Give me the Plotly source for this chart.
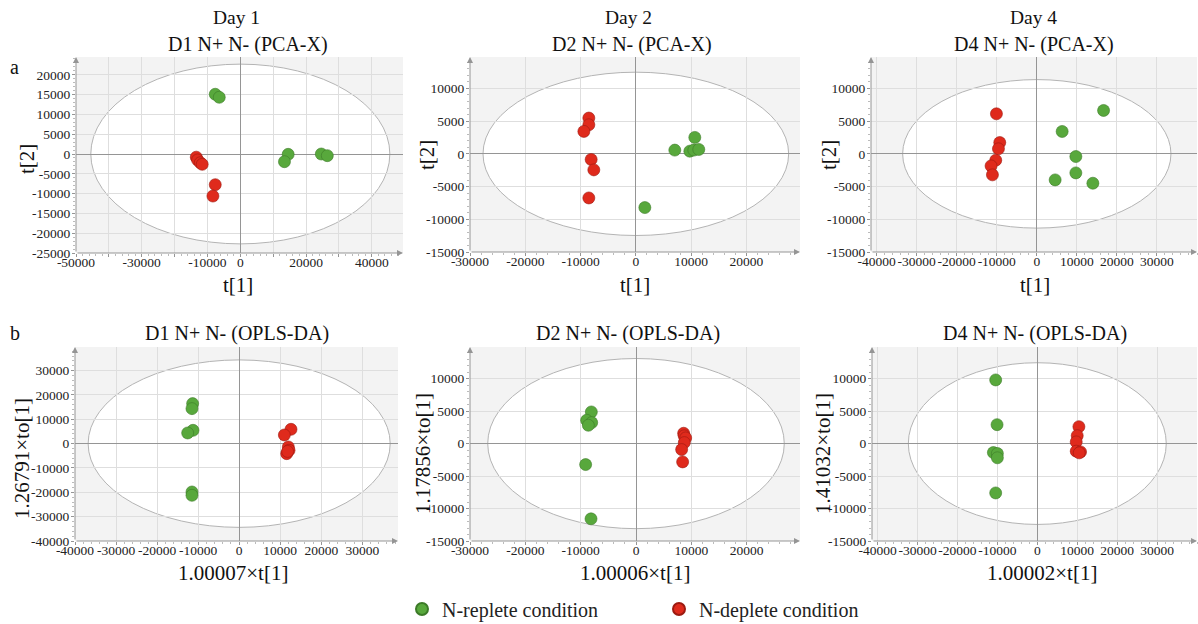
import plotly.graph_objects as go

# ---------------- data ----------------
panel_titles = ["D1 N+ N- (PCA-X)", "D2 N+ N- (PCA-X)", "D4 N+ N- (PCA-X)",
                "D1 N+ N- (OPLS-DA)", "D2 N+ N- (OPLS-DA)", "D4 N+ N- (OPLS-DA)"]
day_labels = ["Day 1", "Day 2", "Day 4"]
x_titles = ["t[1]", "t[1]", "t[1]", "1.00007×t[1]", "1.00006×t[1]", "1.00002×t[1]"]
y_titles = ["t[2]", "t[2]", "t[2]", "1.26791×to[1]", "1.17856×to[1]", "1.41032×to[1]"]
series_names = ["N-replete condition", "N-deplete condition"]

# N-replete (green)
rep_x = [
    [-7630, -6410, 14560, 13430, 24640, 26470],
    [7050, 10670, 9770, 10490, 11390, 1630],
    [16670, 6330, 9750, 9750, 4580, 14000],
    [-11340, -11500, -11250, -12550, -11500, -11500],
    [-8070, -8920, -8010, -8610, -9100, -8130],
    [-10420, -10080, -11000, -10000, -10000, -10420],
]
rep_y = [
    [15090, 14330, -80, -1940, 0, -420],
    [570, 2510, 410, 570, 670, -8210],
    [6630, 3420, -410, -2910, -3980, -4490],
    [16440, 14380, 5480, 4380, -19860, -21230],
    [4870, 3590, 3230, 2820, -3230, -11590],
    [9800, 2910, -1380, -1530, -2190, -7600],
]
# N-deplete (red)
dep_x = [
    [-13400, -13000, -12200, -11600, -7630, -8340],
    [-8500, -8500, -9400, -8080, -7600, -8500],
    [-10080, -9250, -9580, -10250, -11420, -11080],
    [12630, 11010, 11980, 12150, 11580, 11800],
    [8610, 8700, 8980, 8730, 8250, 8430],
    [10420, 10000, 9750, 9750, 10830, 10500],
]
dep_y = [
    [-800, -1500, -2200, -2600, -7750, -10620],
    [5470, 4440, 3430, -860, -2450, -6740],
    [6120, 1730, 770, -970, -1840, -3210],
    [5890, 3560, -1370, -2740, -4110, -3200],
    [1590, 1200, 870, 150, -920, -2820],
    [2600, 1220, 260, -1170, -1280, -1430],
]
# Hotelling T2 ellipse semi-axes
ellipse_a = [45500, 27650, 33500, 36800, 26800, 32300]
ellipse_b = [22700, 12480, 11350, 34400, 13100, 12450]

# axis ticks
x_tickvals = [
    list(range(-50000, 40001, 10000)),
    list(range(-30000, 20001, 10000)),
    list(range(-40000, 30001, 10000)),
    list(range(-40000, 30001, 10000)),
    list(range(-30000, 20001, 10000)),
    list(range(-40000, 30001, 10000)),
]
x_labeled = [
    [-50000, -30000, -10000, 0, 20000, 40000],
    None, None, None, None, None,
]
y_tickvals = [
    list(range(-25000, 20001, 5000)),
    list(range(-15000, 10001, 5000)),
    list(range(-15000, 10001, 5000)),
    list(range(-40000, 30001, 10000)),
    list(range(-15000, 10001, 5000)),
    list(range(-15000, 10001, 5000)),
]

# ---------------- layout geometry (px) ----------------
W, H = 1198, 624
x_ranges = [[-50000, 49500], [-30000, 29700], [-41400, 40000],
            [-40000, 38700], [-30000, 29640], [-41400, 40000]]
y_ranges = [[-25000, 24500], [-15000, 14800], [-15000, 14800],
            [-40000, 39700], [-15000, 14870], [-15000, 14870]]
x_px = [[76, 403], [470, 800], [871, 1197], [75, 398], [470, 800], [872, 1197]]
y_px = [[57, 253], [57, 252], [57, 252], [347, 541], [347, 541], [347, 541]]

FONT = "Liberation Serif, Times New Roman, serif"
GREEN, GREEN_LINE = "#58a83c", "#3c7a28"
RED, RED_LINE = "#df2a1c", "#9c1a10"
GRID = "#dedede"
AXC = "#959595"

fig = go.Figure()
layout = dict(
    width=W, height=H, autosize=False,
    margin=dict(l=0, r=0, t=0, b=0, autoexpand=False),
    paper_bgcolor="white", plot_bgcolor="#f3f3f3",
    font=dict(family=FONT, color="#222"),
    showlegend=True,
    legend=dict(orientation="h", x=402 / W, y=1 - 609 / H, xanchor="left", yanchor="middle",
                font=dict(family=FONT, size=20, color="#222"),
                entrywidth=212, entrywidthmode="pixels", itemsizing="constant",
                bgcolor="rgba(0,0,0,0)"),
)
shapes, annotations = [], []

def fmt(v):
    return str(v)

for i in range(6):
    xa = "xaxis" if i == 0 else f"xaxis{i+1}"
    ya = "yaxis" if i == 0 else f"yaxis{i+1}"
    xr = "x" if i == 0 else f"x{i+1}"
    yr = "y" if i == 0 else f"y{i+1}"
    xd = [x_px[i][0] / W, x_px[i][1] / W]
    yd = [1 - y_px[i][1] / H, 1 - y_px[i][0] / H]
    if x_labeled[i] is None:
        xt = [fmt(v) for v in x_tickvals[i]]
    else:
        xt = [fmt(v) if v in x_labeled[i] else "" for v in x_tickvals[i]]
    xstep = x_tickvals[i][1] - x_tickvals[i][0]
    ystep = y_tickvals[i][1] - y_tickvals[i][0]
    layout[xa] = dict(domain=xd, range=x_ranges[i], anchor=yr,
                      tickmode="array", tickvals=x_tickvals[i], ticktext=xt,
                      tickangle=0, automargin=False,
                      ticks="outside", ticklen=3, tickcolor=AXC,
                      ticklabelstandoff=-6,
                      tickfont=dict(family=FONT, size=13.5, color="#222"),
                      showgrid=True, gridcolor=GRID, gridwidth=1,
                      zeroline=True, zerolinecolor=AXC, zerolinewidth=1,
                      showline=False,
                      minor=dict(tickmode="linear", tick0=0, dtick=xstep / 5,
                                 ticks="outside", ticklen=2, tickcolor="#bbbbbb",
                                 showgrid=False))
    layout[ya] = dict(domain=yd, range=y_ranges[i], anchor=xr,
                      tickmode="array", tickvals=y_tickvals[i],
                      ticktext=[fmt(v) for v in y_tickvals[i]],
                      tickangle=0, automargin=False,
                      ticks="outside", ticklen=3, tickcolor=AXC,
                      ticklabelstandoff=-1,
                      tickfont=dict(family=FONT, size=13.5, color="#222"),
                      showgrid=True, gridcolor=GRID, gridwidth=1,
                      zeroline=True, zerolinecolor=AXC, zerolinewidth=1,
                      showline=False,
                      minor=dict(tickmode="linear", tick0=0, dtick=ystep / 5,
                                 ticks="outside", ticklen=2, tickcolor="#bbbbbb",
                                 showgrid=False))
    # ellipse
    shapes.append(dict(type="circle", xref=xr, yref=yr,
                       x0=-ellipse_a[i], x1=ellipse_a[i], y0=-ellipse_b[i], y1=ellipse_b[i],
                       fillcolor="white", line=dict(color="#b4b4b4", width=1), layer="below"))
    # axis arrows
    annotations.append(dict(xref=f"{xr} domain", yref=f"{yr} domain", x=1, y=0,
                            axref=f"{xr} domain", ayref=f"{yr} domain", ax=0, ay=0,
                            text="", showarrow=True, arrowhead=2, arrowsize=1.2,
                            arrowwidth=1, arrowcolor=AXC, standoff=0, startstandoff=0))
    annotations.append(dict(xref=f"{xr} domain", yref=f"{yr} domain", x=0, y=1,
                            axref=f"{xr} domain", ayref=f"{yr} domain", ax=0, ay=0,
                            text="", showarrow=True, arrowhead=2, arrowsize=1.2,
                            arrowwidth=1, arrowcolor=AXC, standoff=0, startstandoff=0))
    # traces
    fig.add_trace(go.Scatter(x=rep_x[i], y=rep_y[i], mode="markers", name=series_names[0],
                             xaxis=xr, yaxis=yr, showlegend=(i == 0), legendrank=1,
                             marker=dict(size=12, color=GREEN, line=dict(color=GREEN_LINE, width=0.6))))
    fig.add_trace(go.Scatter(x=dep_x[i], y=dep_y[i], mode="markers", name=series_names[1],
                             xaxis=xr, yaxis=yr, showlegend=(i == 0), legendrank=2,
                             marker=dict(size=12, color=RED, line=dict(color=RED_LINE, width=0.6))))

# titles and axis titles (positions in px)
title_pos = [(248, 45), (632, 45), (1034, 45), (237, 333), (628, 333), (1035, 333)]
day_pos = [(237, 17), (628, 17), (1033, 17)]
xt_pos = [(238, 285), (635, 285), (1035, 285), (233, 573), (635, 573), (1042, 573)]
yt_pos = [(27, 159), (427, 155), (829, 155), (22, 459), (423, 454), (823, 454)]

def ann(text, x, y, size, angle=0):
    return dict(text=text, x=x / W, y=1 - y / H, xref="paper", yref="paper",
                xanchor="center", yanchor="middle", showarrow=False, textangle=angle,
                font=dict(family=FONT, size=size, color="#111"))

for i in range(6):
    annotations.append(ann(panel_titles[i], *title_pos[i], 20))
    annotations.append(ann(x_titles[i], *xt_pos[i], 21))
    annotations.append(ann(y_titles[i], *yt_pos[i], 21, -90))
for j in range(3):
    annotations.append(ann(day_labels[j], *day_pos[j], 19.5))
annotations.append(ann("a", 14, 67, 20))
annotations.append(ann("b", 15, 333, 20))

layout["shapes"] = shapes
layout["annotations"] = annotations
fig.update_layout(**layout)

fig.write_html("out.html")
